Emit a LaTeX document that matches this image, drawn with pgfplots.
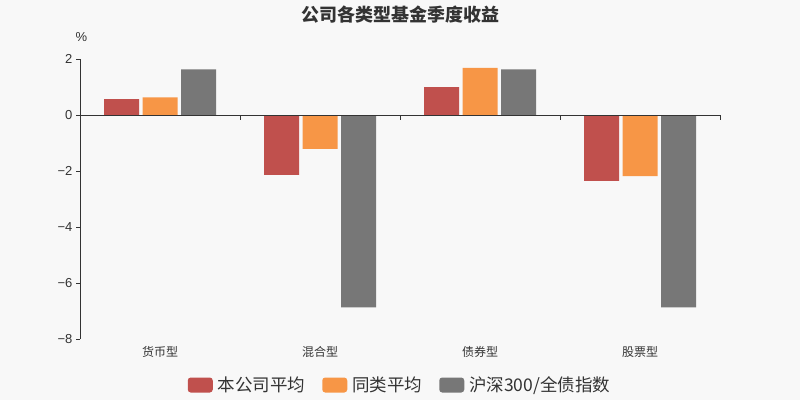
\documentclass[border=0pt]{standalone}
\usepackage{pgfplots}
\pgfplotsset{compat=1.18}
\usepackage{fontspec}
\setmainfont{Liberation Sans}
\newfontfamily\cjk{Noto Sans CJK SC}
\definecolor{bgc}{HTML}{F8F8F8}
\definecolor{cred}{HTML}{C0504D}
\definecolor{corange}{HTML}{F79646}
\definecolor{cgray}{HTML}{777777}
\definecolor{txt}{HTML}{333333}
\begin{document}
\begin{tikzpicture}[x=1pt,y=1pt]
\fill[bgc] (0,0) rectangle (800,400);
\node[font=\cjk\bfseries\fontsize{18}{18}\selectfont, text=txt] at (400,385) {公司各类型基金季度收益};
\node[font=\fontsize{13}{13}\selectfont, text=txt, anchor=west] at (72,363) {\%};
\begin{axis}[
  at={(80pt,61pt)}, anchor=south west,
  scale only axis, width=640pt, height=280pt,
  xmin=-0.5, xmax=3.5, ymin=-8, ymax=2,
  axis y line*=left, axis x line*=bottom,
  x axis line style={draw=none},
  y axis line style={draw=txt, line width=0.8pt},
  xtick={0,1,2,3},
  xticklabels={货币型,混合型,债券型,股票型},
  x tick style={draw=none},
  xticklabel style={font=\cjk\fontsize{12}{12}\selectfont, text=txt},
  ytick={-8,-6,-4,-2,0,2},
  yticklabels={−8,−6,−4,−2,0,2},
  yticklabel style={font=\fontsize{13}{13}\selectfont, text=txt},
  y tick style={draw=txt, line width=0.8pt},
  tick align=outside, major tick length=4pt,
  ybar=3.5pt, bar width=35pt,
  legend style={at={(0.5,0)}, anchor=center, yshift=-46pt, draw=none, fill=none,
    legend columns=3, font=\cjk\fontsize{17.5}{17.5}\selectfont, text=txt,
    /tikz/every odd column/.append style={column sep=3pt},
    /tikz/every even column/.append style={column sep=15pt}},
  clip=false,
]
\addplot[fill=cred, draw=none, legend image code/.code={\fill[cred, rounded corners=3pt] (0pt,-7.5pt) rectangle (25pt,7.5pt);}]
  coordinates {(0,0.57) (1,-2.14) (2,1.00) (3,-2.35)};
\addplot[fill=corange, draw=none, legend image code/.code={\fill[corange, rounded corners=3pt] (0pt,-7.5pt) rectangle (25pt,7.5pt);}]
  coordinates {(0,0.63) (1,-1.21) (2,1.68) (3,-2.18)};
\addplot[fill=cgray, draw=none, legend image code/.code={\fill[cgray, rounded corners=3pt] (0pt,-7.5pt) rectangle (25pt,7.5pt);}]
  coordinates {(0,1.63) (1,-6.87) (2,1.63) (3,-6.87)};
\legend{本公司平均,同类平均,沪深300/全债指数}
\draw[txt, line width=0.8pt] (axis cs:-0.5,0) -- (axis cs:3.5,0);
\draw[txt, line width=0.8pt] (axis cs:0.5,0) -- ([yshift=-5pt]axis cs:0.5,0);
\draw[txt, line width=0.8pt] (axis cs:1.5,0) -- ([yshift=-5pt]axis cs:1.5,0);
\draw[txt, line width=0.8pt] (axis cs:2.5,0) -- ([yshift=-5pt]axis cs:2.5,0);
\draw[txt, line width=0.8pt] (axis cs:3.5,0) -- ([yshift=-5pt]axis cs:3.5,0);
\end{axis}
\end{tikzpicture}
\end{document}
